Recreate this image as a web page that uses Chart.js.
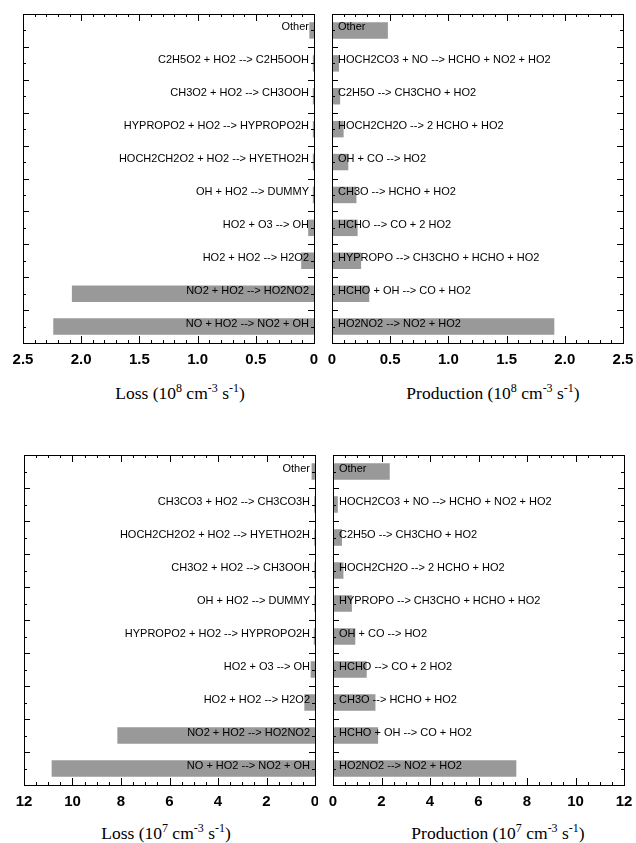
<!DOCTYPE html>
<html>
<head>
<meta charset="utf-8">
<script src="https://cdn.jsdelivr.net/npm/chart.js@4"></script>
<style>
  body { margin: 0; background: #fff; width: 636px; height: 843px; position: relative; overflow: hidden; }
  canvas { position: absolute; }
  .title { position: absolute; width: 300px; text-align: center; font: 17.5px "Liberation Serif", "Times New Roman", serif; line-height: 20px; color: #000; }
  .title sup { font-size: 12px; vertical-align: 7px; line-height: 0; }
</style>
</head>
<body>
<canvas id="lossTop" width="318" height="380" style="left:0;top:0"></canvas>
<canvas id="prodTop" width="318" height="380" style="left:318px;top:0"></canvas>
<canvas id="lossBot" width="318" height="380" style="left:0;top:440px"></canvas>
<canvas id="prodBot" width="318" height="380" style="left:318px;top:440px"></canvas>

<div class="title" style="left:30px;top:383px">Loss (10<sup>8</sup> cm<sup>-3</sup> s<sup>-1</sup>)</div>
<div class="title" style="left:343px;top:383px">Production (10<sup>8</sup> cm<sup>-3</sup> s<sup>-1</sup>)</div>
<div class="title" style="left:16px;top:823px">Loss (10<sup>7</sup> cm<sup>-3</sup> s<sup>-1</sup>)</div>
<div class="title" style="left:348px;top:823px">Production (10<sup>7</sup> cm<sup>-3</sup> s<sup>-1</sup>)</div>

<script>
// data, listed top to bottom as in the figure
const lossTopLabels = ["Other", "C2H5O2 + HO2 --> C2H5OOH", "CH3O2 + HO2 --> CH3OOH", "HYPROPO2 + HO2 --> HYPROPO2H",
  "HOCH2CH2O2 + HO2 --> HYETHO2H", "OH + HO2 --> DUMMY", "HO2 + O3 --> OH", "HO2 + HO2 --> H2O2",
  "NO2 + HO2 --> HO2NO2", "NO + HO2 --> NO2 + OH"];
const lossTopValues = [0.04, 0.01, 0.01, 0.01, 0.01, 0.01, 0.05, 0.11, 2.08, 2.24];

const prodTopLabels = ["Other", "HOCH2CO3 + NO --> HCHO + NO2 + HO2", "C2H5O --> CH3CHO + HO2", "HOCH2CH2O --> 2 HCHO + HO2",
  "OH + CO --> HO2", "CH3O --> HCHO + HO2", "HCHO --> CO + 2 HO2", "HYPROPO --> CH3CHO + HCHO + HO2",
  "HCHO + OH --> CO + HO2", "HO2NO2 --> NO2 + HO2"];
const prodTopValues = [0.48, 0.06, 0.07, 0.10, 0.14, 0.21, 0.22, 0.25, 0.32, 1.91];

const lossBotLabels = ["Other", "CH3CO3 + HO2 --> CH3CO3H", "HOCH2CH2O2 + HO2 --> HYETHO2H", "CH3O2 + HO2 --> CH3OOH",
  "OH + HO2 --> DUMMY", "HYPROPO2 + HO2 --> HYPROPO2H", "HO2 + O3 --> OH", "HO2 + HO2 --> H2O2",
  "NO2 + HO2 --> HO2NO2", "NO + HO2 --> NO2 + OH"];
const lossBotValues = [0.14, 0.03, 0.03, 0.03, 0.03, 0.05, 0.18, 0.44, 8.15, 10.86];

const prodBotLabels = ["Other", "HOCH2CO3 + NO --> HCHO + NO2 + HO2", "C2H5O --> CH3CHO + HO2", "HOCH2CH2O --> 2 HCHO + HO2",
  "HYPROPO --> CH3CHO + HCHO + HO2", "OH + CO --> HO2", "HCHO --> CO + 2 HO2", "CH3O --> HCHO + HO2",
  "HCHO + OH --> CO + HO2", "HO2NO2 --> NO2 + HO2"];
const prodBotValues = [2.34, 0.20, 0.37, 0.43, 0.78, 0.92, 1.39, 1.75, 1.86, 7.56];

const topTicks = [0, 0.5, 1.0, 1.5, 2.0, 2.5];
const botTicks = [0, 2, 4, 6, 8, 10, 12];

/* frame, inward ticks and in-bar labels */
const framePlugin = {
  id: "frame",
  afterDatasetsDraw(chart, args, opts) {
    const { ctx, chartArea: a } = chart;
    const x = chart.scales.x;
    const n = chart.data.labels.length;
    const step = (a.bottom - a.top) / n;
    const zero = x.getPixelForValue(0);

    // labels
    ctx.save();
    ctx.fillStyle = "#000";
    ctx.font = "11px 'Liberation Sans', Arial, sans-serif";
    ctx.textBaseline = "middle";
    ctx.textAlign = opts.reverse ? "right" : "left";
    chart.data.labels.forEach((lab, i) => {
      const y = a.top + (i + 0.5) * step - 3;
      ctx.fillText(lab, opts.reverse ? zero - 5 : zero + 6, y);
    });
    ctx.restore();

    ctx.save();
    ctx.strokeStyle = "#000";
    ctx.lineWidth = 1;
    ctx.beginPath();
    // y ticks on both sides
    for (let i = 0; i <= 2 * n; i++) {
      const y = Math.round(a.top + i * step / 2) + 0.5;
      const len = i % 2 === 0 ? 6 : 3;
      ctx.moveTo(a.left, y); ctx.lineTo(a.left + len, y);
      ctx.moveTo(a.right, y); ctx.lineTo(a.right - len, y);
    }
    // x ticks top and bottom
    const ticks = opts.ticks;
    const major = ticks[1] - ticks[0];
    const minor = opts.minor;
    const maxV = ticks[ticks.length - 1];
    for (let k = 0; k * minor <= maxV + 1e-9; k++) {
      const v = k * minor;
      const px = Math.round(x.getPixelForValue(v)) + 0.5;
      const isMajor = Math.abs(v / major - Math.round(v / major)) < 1e-6;
      const len = isMajor ? 7 : 3;
      ctx.moveTo(px, a.bottom); ctx.lineTo(px, a.bottom - len);
      ctx.moveTo(px, a.top); ctx.lineTo(px, a.top + len);
    }
    ctx.stroke();
    ctx.strokeRect(Math.round(a.left) + 0.5, Math.round(a.top) + 0.5,
      Math.round(a.right - a.left), Math.round(a.bottom - a.top));
    ctx.restore();
  }
};

function makePanel(id, labels, values, cfg) {
  return new Chart(document.getElementById(id), {
    type: "bar",
    data: {
      labels: labels,
      datasets: [{
        data: values,
        backgroundColor: "#999999",
        borderWidth: 0,
        barPercentage: 0.5,
        categoryPercentage: 1.0
      }]
    },
    options: {
      indexAxis: "y",
      responsive: false,
      animation: false,
      layout: { padding: cfg.pad },
      plugins: {
        legend: { display: false },
        tooltip: { enabled: false },
        frame: { reverse: cfg.reverse, ticks: cfg.ticks, minor: cfg.minor }
      },
      scales: {
        y: { display: false },
        x: {
          type: "linear",
          reverse: cfg.reverse,
          min: 0,
          max: cfg.ticks[cfg.ticks.length - 1],
          grid: { display: false, drawTicks: false },
          border: { display: false },
          afterBuildTicks: (s) => { s.ticks = cfg.ticks.map(v => ({ value: v })); },
          afterFit: (s) => { s.height = cfg.axisH; s.paddingLeft = 0; s.paddingRight = 0; },
          ticks: {
            padding: 8,
            color: "#000",
            font: { family: "'Liberation Sans', Arial, sans-serif", size: 15, weight: "bold" },
            callback: cfg.fmt
          }
        }
      }
    },
    plugins: [framePlugin]
  });
}

const fmtTop = (v) => v === 0 ? "0" : Number(v).toFixed(1);
const fmtBot = (v) => String(v);

makePanel("lossTop", lossTopLabels, lossTopValues,
  { reverse: true, ticks: topTicks, minor: 0.1, fmt: fmtTop, axisH: 37, pad: { left: 23, right: 4, top: 14, bottom: 0 } });
makePanel("prodTop", prodTopLabels, prodTopValues,
  { reverse: false, ticks: topTicks, minor: 0.1, fmt: fmtTop, axisH: 37, pad: { left: 14, right: 13, top: 14, bottom: 0 } });
makePanel("lossBot", lossBotLabels, lossBotValues,
  { reverse: true, ticks: botTicks, minor: 0.5, fmt: fmtBot, axisH: 35, pad: { left: 24, right: 3, top: 15, bottom: 0 } });
makePanel("prodBot", prodBotLabels, prodBotValues,
  { reverse: false, ticks: botTicks, minor: 0.5, fmt: fmtBot, axisH: 35, pad: { left: 15, right: 12, top: 15, bottom: 0 } });
</script>
</body>
</html>
